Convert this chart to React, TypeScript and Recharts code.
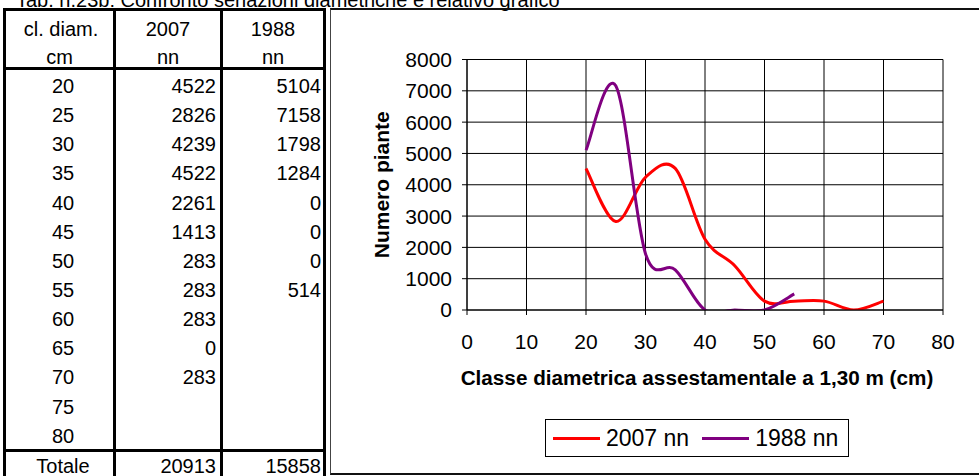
import { CartesianGrid, Legend, Line, LineChart, XAxis, YAxis } from "recharts";

const FONT = '"Liberation Sans", Arial, sans-serif';

const TITLE = "Tab. n.23b: Confronto seriazioni diametriche e relativo grafico";
const HEAD_1 = ["cl. diam.", "2007", "1988"];
const HEAD_2 = ["cm", "nn", "nn"];
const classi = [20, 25, 30, 35, 40, 45, 50, 55, 60, 65, 70, 75, 80];
const nn2007: (number | null)[] = [4522, 2826, 4239, 4522, 2261, 1413, 283, 283, 283, 0, 283, null, null];
const nn1988: (number | null)[] = [5104, 7158, 1798, 1284, 0, 0, 0, 514, null, null, null, null, null];
const totali = [20913, 15858];
const xTicks = [0, 10, 20, 30, 40, 50, 60, 70, 80];
const yTicks = [0, 1000, 2000, 3000, 4000, 5000, 6000, 7000, 8000];
const SERIES = ["2007 nn", "1988 nn"];

const X_TITLE = "Classe diametrica assestamentale a 1,30 m (cm)";
const Y_TITLE = "Numero piante";

const data = classi.map((d, i) => ({ d, a2007: nn2007[i], a1988: nn1988[i] }));

// Excel-style smoothed line: cubic bezier with control points at 1/6 of the neighbour chord.
function excelSmooth(context: any) {
  let pts: [number, number][] = [];
  return {
    areaStart() {},
    areaEnd() {},
    lineStart() {
      pts = [];
    },
    lineEnd() {
      const n = pts.length;
      if (!n) return;
      context.moveTo(pts[0][0], pts[0][1]);
      for (let i = 0; i < n - 1; i++) {
        const p0 = pts[Math.max(i - 1, 0)];
        const p1 = pts[i];
        const p2 = pts[i + 1];
        const p3 = pts[Math.min(i + 2, n - 1)];
        context.bezierCurveTo(
          p1[0] + (p2[0] - p0[0]) / 6,
          p1[1] + (p2[1] - p0[1]) / 6,
          p2[0] - (p3[0] - p1[0]) / 6,
          p2[1] - (p3[1] - p1[1]) / 6,
          p2[0],
          p2[1],
        );
      }
    },
    point(x: number, y: number) {
      pts.push([+x, +y]);
    },
  };
}

const B = "3px solid #000";

function Cell({
  children,
  w,
  h,
  pt,
  align,
  pl = 0,
  pr = 0,
  style,
}: {
  children?: React.ReactNode;
  w: number;
  h: number;
  pt: number;
  align: "left" | "center" | "right";
  pl?: number;
  pr?: number;
  style?: React.CSSProperties;
}) {
  return (
    <td style={{ padding: 0, ...style }}>
      <div
        style={{
          width: w,
          height: h,
          boxSizing: "border-box",
          paddingTop: pt,
          paddingLeft: pl,
          paddingRight: pr,
          lineHeight: `${h - pt}px`,
          textAlign: align,
          whiteSpace: "nowrap",
          overflow: "hidden",
        }}
      >
        {children}
      </div>
    </td>
  );
}

const COLS = [107, 104, 100];
const ROW_H = 29.15;

function DataTable() {
  const sep = (i: number, extra?: React.CSSProperties) => ({
    ...(i < 2 ? { borderRight: B } : {}),
    ...extra,
  });
  return (
    <table
      style={{
        position: "absolute",
        left: 3,
        top: 8,
        borderCollapse: "separate",
        borderSpacing: 0,
        border: B,
        borderBottom: "none",
        fontSize: 20,
        fontFamily: FONT,
        color: "#000",
      }}
    >
      <tbody>
        <tr>
          {HEAD_1.map((t, i) => (
            <Cell key={t} w={COLS[i]} h={28} pt={7.8} align="center" pl={i === 0 ? 3 : 0} style={sep(i)}>
              {t}
            </Cell>
          ))}
        </tr>
        <tr>
          {HEAD_2.map((t, i) => (
            <Cell key={i} w={COLS[i]} h={28} pt={7.8} align="center" style={sep(i, { borderBottom: B })}>
              {t}
            </Cell>
          ))}
        </tr>
        {classi.map((c, r) => (
          <tr key={c}>
            <Cell w={COLS[0]} h={ROW_H} pt={4} align="center" pl={7} style={sep(0)}>
              {c}
            </Cell>
            <Cell w={COLS[1]} h={ROW_H} pt={4} align="right" pr={4} style={sep(1)}>
              {nn2007[r] ?? ""}
            </Cell>
            <Cell w={COLS[2]} h={ROW_H} pt={4} align="right" pr={2} style={sep(2)}>
              {nn1988[r] ?? ""}
            </Cell>
          </tr>
        ))}
        <tr>
          <Cell w={COLS[0]} h={ROW_H} pt={1.5} align="center" pl={7} style={sep(0, { borderTop: B })}>
            Totale
          </Cell>
          <Cell w={COLS[1]} h={ROW_H} pt={1.5} align="right" pr={4} style={sep(1, { borderTop: B })}>
            {totali[0]}
          </Cell>
          <Cell w={COLS[2]} h={ROW_H} pt={1.5} align="right" pr={2} style={sep(2, { borderTop: B })}>
            {totali[1]}
          </Cell>
        </tr>
      </tbody>
    </table>
  );
}

function LegendBox({ payload }: any) {
  // keep the series order of the original (Recharts sorts legend items by name)
  const items = [...(payload || [])].sort((a: any, b: any) => SERIES.indexOf(a.value) - SERIES.indexOf(b.value));
  return (
    <div
      style={{
        display: "flex",
        alignItems: "center",
        boxSizing: "border-box",
        width: 304,
        height: 38,
        border: "1px solid #000",
        paddingLeft: 7,
        background: "#fff",
        fontSize: 23,
        fontFamily: FONT,
        color: "#000",
      }}
    >
      {items.map((e: any, i: number) => (
        <span key={e.value} style={{ display: "flex", alignItems: "center", marginLeft: i ? 13 : 0 }}>
          <span style={{ display: "inline-block", width: 47, height: 3, background: e.color, marginRight: 6 }} />
          {e.value}
        </span>
      ))}
    </div>
  );
}

const tickStyle = { fontSize: 21, fontFamily: FONT, fill: "#000" };

export default function App() {
  return (
    <div
      style={{
        position: "absolute",
        left: 0,
        top: 0,
        width: 979,
        height: 476,
        overflow: "hidden",
        background: "#fff",
        fontFamily: FONT,
      }}
    >
      <div
        style={{
          position: "absolute",
          left: 16,
          top: -11.4,
          fontSize: 20,
          lineHeight: "23px",
          whiteSpace: "nowrap",
          color: "#000",
        }}
      >
        {TITLE}
      </div>
      <DataTable />
      <div
        style={{
          position: "absolute",
          left: 330,
          top: 8,
          width: 700,
          height: 467,
          boxSizing: "border-box",
          borderTop: "2px solid #111",
          borderBottom: "2px solid #111",
          borderLeft: "1px solid #444",
        }}
      />
      <div style={{ position: "absolute", left: 330, top: 9 }}>
        <LineChart width={649} height={465} data={data} margin={{ top: 50.5, right: 36, left: 37, bottom: 64 }}>
          <CartesianGrid stroke="#000" strokeWidth={1} fill="none" />
          <XAxis
            type="number"
            dataKey="d"
            domain={[0, 80]}
            ticks={xTicks}
            interval={0}
            height={100}
            tickSize={5}
            tickMargin={19}
            stroke="#000"
            tick={tickStyle}
            label={{
              value: X_TITLE,
              position: "insideTop",
              offset: 60,
              dx: -8,
              style: { fontSize: 20.7, fontWeight: "bold", fontFamily: FONT, fill: "#000" },
            }}
          />
          <YAxis
            type="number"
            domain={[0, 8000]}
            ticks={yTicks}
            interval={0}
            allowDataOverflow
            width={100}
            tickSize={5}
            tickMargin={10}
            stroke="#000"
            tick={tickStyle}
            label={{
              value: Y_TITLE,
              angle: -90,
              position: "insideLeft",
              offset: 14.5,
              style: { fontSize: 21, fontWeight: "bold", fontFamily: FONT, fill: "#000", textAnchor: "middle" },
            }}
          />
          <Legend
            layout="horizontal"
            verticalAlign="middle"
            align="center"
            content={<LegendBox />}
            wrapperStyle={{ left: 215, top: 410, width: 304, height: 38 }}
          />
          <Line
            name={SERIES[0]}
            dataKey="a2007"
            type={excelSmooth as any}
            stroke="#ff0000"
            strokeWidth={3}
            dot={false}
            activeDot={false}
            isAnimationActive={false}
          />
          <Line
            name={SERIES[1]}
            dataKey="a1988"
            type={excelSmooth as any}
            stroke="#800080"
            strokeWidth={3}
            dot={false}
            activeDot={false}
            isAnimationActive={false}
          />
        </LineChart>
      </div>
    </div>
  );
}
